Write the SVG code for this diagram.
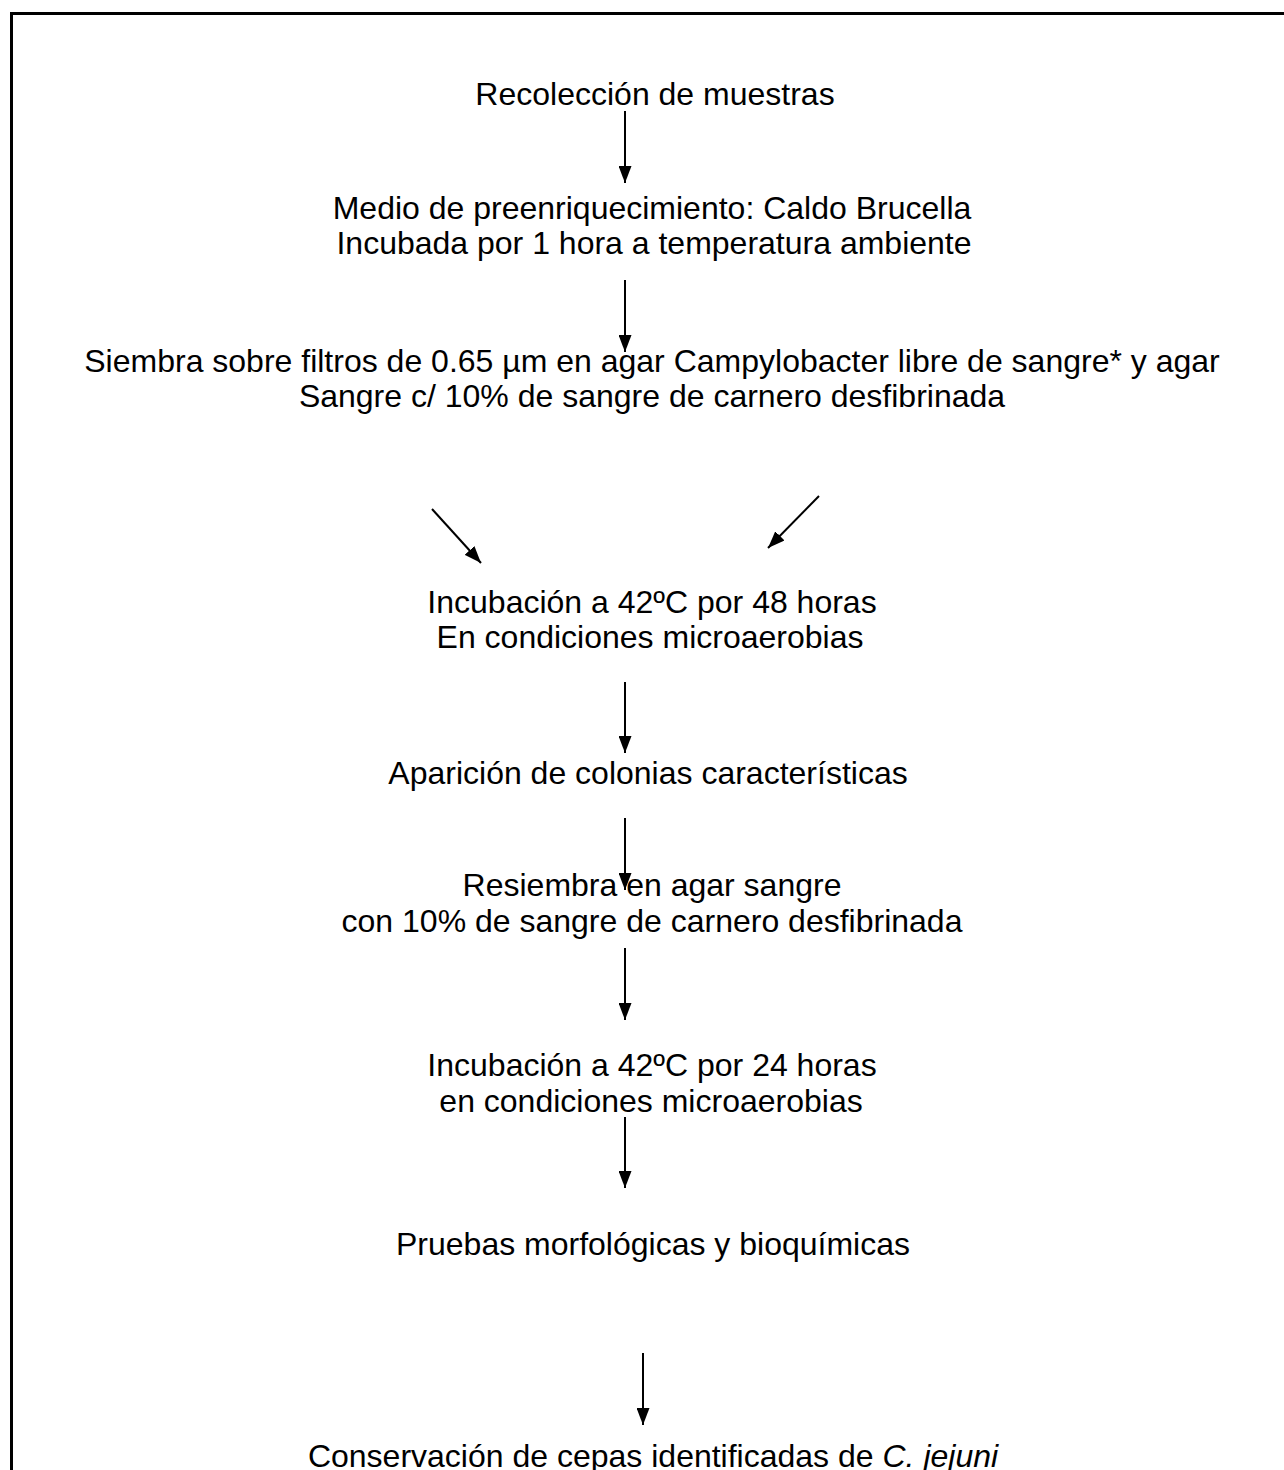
<svg xmlns="http://www.w3.org/2000/svg" width="1284" height="1470" viewBox="0 0 1284 1470">
<style>
text{font-family:"Liberation Sans",Arial,sans-serif;font-size:32px;fill:#000;text-anchor:middle}
.c{stroke:#000;stroke-width:2;fill:none}
.frame{stroke:#000;stroke-width:3;fill:none}
</style>
<defs>
<marker id="ah" viewBox="0 0 17 13" refX="17" refY="6.5" markerWidth="17" markerHeight="13" markerUnits="userSpaceOnUse" orient="auto">
<path d="M0,0 L17,6.5 L0,13 z" fill="#000"/>
</marker>
</defs>
<rect width="1284" height="1470" fill="#fff"/>
<path class="frame" d="M11.5,1472 V13.5 H1286"/>
<g id="n1"><text x="655" y="105">Recolección de muestras</text></g>
<g id="n2"><text x="652" y="219">Medio de preenriquecimiento: Caldo Brucella</text><text x="654" y="254">Incubada por 1 hora a temperatura ambiente</text></g>
<g id="n3"><text x="652" y="372">Siembra sobre filtros de 0.65 µm en agar Campylobacter libre de sangre* y agar</text><text x="652" y="407">Sangre c/ 10% de sangre de carnero desfibrinada</text></g>
<g id="n4"><text x="652" y="613">Incubación a 42ºC por 48 horas</text><text x="650" y="648">En condiciones microaerobias</text></g>
<g id="n5"><text x="648" y="784">Aparición de colonias características</text></g>
<g id="n6"><text x="652" y="896">Resiembra en agar sangre</text><text x="652" y="932">con 10% de sangre de carnero desfibrinada</text></g>
<g id="n7"><text x="652" y="1076">Incubación a 42ºC por 24 horas</text><text x="651" y="1112">en condiciones microaerobias</text></g>
<g id="n8"><text x="653" y="1255">Pruebas morfológicas y bioquímicas</text></g>
<g id="n9"><text x="653" y="1467">Conservación de cepas identificadas de <tspan font-style="italic">C. jejuni</tspan></text></g>
<g id="connectors">
<line class="c" x1="625" y1="111" x2="625" y2="183" marker-end="url(#ah)"/>
<line class="c" x1="625" y1="280" x2="625" y2="352" marker-end="url(#ah)"/>
<line class="c" x1="432" y1="509" x2="481" y2="563" marker-end="url(#ah)"/>
<line class="c" x1="819" y1="496" x2="768" y2="548" marker-end="url(#ah)"/>
<line class="c" x1="625" y1="682" x2="625" y2="753" marker-end="url(#ah)"/>
<line class="c" x1="625" y1="818" x2="625" y2="890" marker-end="url(#ah)"/>
<line class="c" x1="625" y1="948" x2="625" y2="1020" marker-end="url(#ah)"/>
<line class="c" x1="625" y1="1117" x2="625" y2="1188" marker-end="url(#ah)"/>
<line class="c" x1="643" y1="1353" x2="643" y2="1425" marker-end="url(#ah)"/>
</g>
</svg>
